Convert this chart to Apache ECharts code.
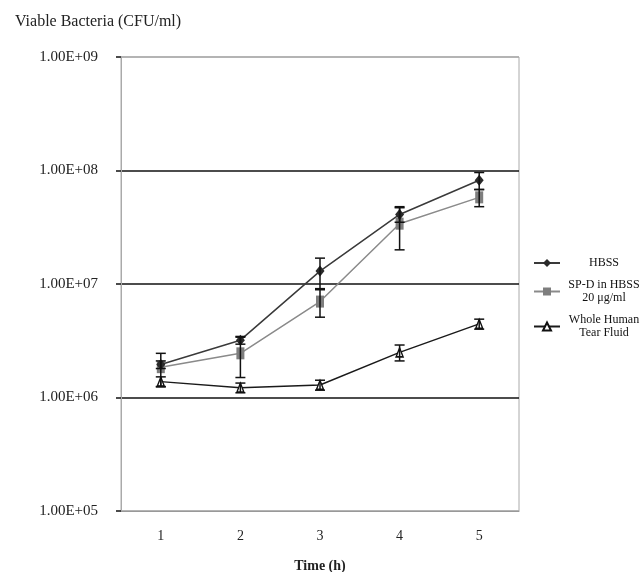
<!DOCTYPE html>
<html>
<head>
<meta charset="utf-8">
<script src="https://cdn.jsdelivr.net/npm/echarts@6/dist/echarts.min.js"></script>
<style>
  html, body { margin: 0; padding: 0; background: #fff; }
  #chart { width: 643px; height: 572px; }
</style>
</head>
<body>
<div id="chart"></div>
<script>
  var times = ['1', '2', '3', '4', '5'];
  var yTickLabels = ['1.00E+05', '1.00E+06', '1.00E+07', '1.00E+08', '1.00E+09'];

  var hbss = [1.95e6, 3.2e6, 1.3e7, 4.1e7, 8.2e7];
  var hbssErr = [0.15e6, 0.25e6, 0.39e7, 0.6e7, 1.4e7];
  var spd = [1.85e6, 2.45e6, 7.0e6, 3.4e7, 5.8e7];
  var spdErr = [0.6e6, 0.95e6, 1.9e6, 1.4e7, 1.0e7];
  var tear = [1.38e6, 1.22e6, 1.29e6, 2.5e6, 4.45e6];
  var tearErr = [0.14e6, 0.12e6, 0.13e6, 0.4e6, 0.45e6];

  var names = ['HBSS', 'SP-D in HBSS\n20 μg/ml', 'Whole Human\nTear Fluid'];

  // error bar items: [category index, low, high]
  var errData = [];
  [[hbss, hbssErr], [spd, spdErr], [tear, tearErr]].forEach(function (s) {
    s[0].forEach(function (v, i) {
      errData.push([i, v - s[1][i], v + s[1][i]]);
    });
  });

  var serif = '"Liberation Serif", "DejaVu Serif", serif';

  var myChart = echarts.init(document.getElementById('chart'));
  myChart.setOption({
    animation: false,
    title: {
      text: 'Viable Bacteria (CFU/ml)',
      left: 10,
      top: 9,
      textStyle: { fontFamily: serif, fontSize: 16, fontWeight: 'normal', color: '#222' }
    },
    legend: {
      data: names,
      orient: 'vertical',
      left: 528,
      top: 252,
      itemWidth: 26,
      itemHeight: 10,
      itemGap: 10,
      formatter: function (n) {
        return n.split('\n').map(function (t) { return '{a|' + t + '}'; }).join('\n');
      },
      textStyle: {
        fontFamily: serif,
        fontSize: 12,
        color: '#111',
        rich: { a: { width: 78, align: 'center', fontFamily: serif, fontSize: 12, lineHeight: 13, color: '#111' } }
      }
    },
    grid: {
      left: 121,
      right: 124,
      top: 57,
      bottom: 61,
      outerBoundsMode: 'none',
      containLabel: false,
      show: true,
      borderColor: '#aaa',
      borderWidth: 1
    },
    xAxis: {
      type: 'category',
      data: times,
      name: 'Time (h)',
      nameLocation: 'middle',
      nameGap: 48,
      nameTextStyle: { fontFamily: serif, fontSize: 14, fontWeight: 'bold', color: '#222' },
      axisLine: { lineStyle: { color: '#999' } },
      axisTick: { length: 3, lineStyle: { color: '#999' } },
      axisLabel: { margin: 18, fontFamily: serif, fontSize: 14, color: '#222' }
    },
    yAxis: {
      type: 'log',
      logBase: 10,
      min: 1e5,
      max: 1e9,
      axisLine: { show: true, lineStyle: { color: '#aaa' } },
      axisTick: { show: true, length: 5, lineStyle: { color: '#111', width: 1.5 } },
      axisLabel: {
        margin: 23,
        fontFamily: serif,
        fontSize: 15,
        color: '#222',
        formatter: function (v) {
          return yTickLabels[Math.round(Math.log10(v)) - 5];
        }
      },
      splitLine: {
        show: true,
        lineStyle: { color: ['#aaa', '#111', '#111', '#111', '#aaa'], width: 1.5 }
      }
    },
    series: [
      {
        name: names[0],
        type: 'line',
        data: hbss,
        symbol: 'diamond',
        symbolSize: [9, 11],
        lineStyle: { color: '#3a3a3a', width: 1.5 },
        itemStyle: { color: '#2a2a2a' },
        z: 3
      },
      {
        name: names[1],
        type: 'line',
        data: spd,
        symbol: 'rect',
        symbolSize: [8, 12],
        lineStyle: { color: '#8a8a8a', width: 1.5 },
        itemStyle: { color: '#7e7e7e' },
        z: 2
      },
      {
        name: names[2],
        type: 'line',
        data: tear,
        symbol: 'triangle',
        symbolSize: [7, 9],
        lineStyle: { color: '#1a1a1a', width: 1.5 },
        itemStyle: { color: '#fff', borderColor: '#111', borderWidth: 1.5 },
        z: 3
      },
      {
        type: 'custom',
        data: errData,
        z: 4,
        silent: true,
        encode: { x: 0, y: [1, 2] },
        renderItem: function (params, api) {
          var lo = api.coord([api.value(0), api.value(1)]);
          var hi = api.coord([api.value(0), api.value(2)]);
          var w = 5;
          var st = { stroke: '#111', lineWidth: 1.5 };
          return {
            type: 'group',
            children: [
              { type: 'line', shape: { x1: lo[0], y1: lo[1], x2: hi[0], y2: hi[1] }, style: st },
              { type: 'line', shape: { x1: lo[0] - w, y1: lo[1], x2: lo[0] + w, y2: lo[1] }, style: st },
              { type: 'line', shape: { x1: hi[0] - w, y1: hi[1], x2: hi[0] + w, y2: hi[1] }, style: st }
            ]
          };
        }
      }
    ]
  });
</script>
</body>
</html>
